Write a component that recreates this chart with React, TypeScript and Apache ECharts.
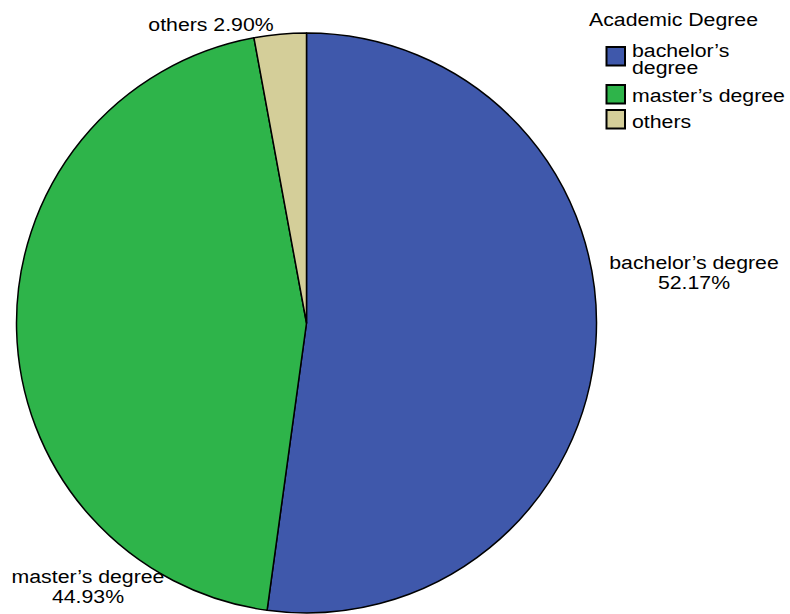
import React, { useEffect, useRef } from "react";
import * as echarts from "echarts";

// Academic degree distribution (percent of respondents)
const categories = ["bachelor’s degree", "master’s degree", "others"];
const percents = [52.17, 44.93, 2.9];
const colors = ["#3F58AB", "#2EB44A", "#D4CE99"];
const legendTitle = "Academic Degree";
const legendLabels = ["bachelor’s\ndegree", "master’s degree", "others"];

const FONT = "'Liberation Sans', Arial, Helvetica, sans-serif";
const FONT_SIZE = 19;
const STRETCH = 1.12;

// Where each slice label sits and how it is laid out
const labelSpots = [
  { x: 694, y: 272.5, lines: 2 },
  { x: 88, y: 586.5, lines: 2 },
  { x: 211, y: 24.5, lines: 1 },
];
// Legend geometry: swatch tops and text centres
const legendSwatchTops = [47, 85, 110];
const legendTextCentres = [59, 95, 121.5];

export default function App() {
  const ref = useRef<HTMLDivElement>(null);

  useEffect(() => {
    if (!ref.current) return;
    const chart = echarts.init(ref.current, null, { renderer: "svg" });

    const labelText = (i: number) => {
      const pct = percents[i].toFixed(2) + "%";
      return labelSpots[i].lines === 2
        ? `${categories[i]}\n${pct}`
        : `${categories[i]} ${pct}`;
    };

    const sliceLabels = categories.map((_, i) => ({
      type: "text",
      x: labelSpots[i].x,
      y: labelSpots[i].y,
      scaleX: STRETCH,
      z: 100,
      style: {
        text: labelText(i),
        font: `${FONT_SIZE}px ${FONT}`,
        fill: "#000",
        align: "center",
        verticalAlign: "middle",
        lineHeight: 20,
      },
    }));

    const legendItems: any[] = [];
    legendItems.push({
      type: "text",
      x: 589,
      y: 19,
      scaleX: STRETCH,
      z: 100,
      style: {
        text: legendTitle,
        font: `${FONT_SIZE}px ${FONT}`,
        fill: "#000",
        align: "left",
        verticalAlign: "middle",
      },
    });
    categories.forEach((_, i) => {
      legendItems.push({
        type: "rect",
        z: 100,
        shape: { x: 606.5, y: legendSwatchTops[i], width: 18.5, height: 18.5 },
        style: { fill: colors[i], stroke: "#000", lineWidth: 2 },
      });
      legendItems.push({
        type: "text",
        x: 632,
        y: legendTextCentres[i],
        scaleX: STRETCH,
        z: 100,
        style: {
          text: legendLabels[i],
          font: `${FONT_SIZE}px ${FONT}`,
          fill: "#000",
          align: "left",
          verticalAlign: "middle",
          lineHeight: 17.5,
        },
      });
    });

    chart.setOption({
      animation: false,
      backgroundColor: "#fff",
      series: [
        {
          type: "pie",
          center: [306.5, 323],
          radius: 290,
          startAngle: 90,
          clockwise: true,
          label: { show: false },
          labelLine: { show: false },
          emphasis: { disabled: true },
          itemStyle: { borderColor: "#000", borderWidth: 1.5 },
          data: categories.map((name, i) => ({
            name,
            value: percents[i],
            itemStyle: { color: colors[i] },
          })),
        },
      ],
      graphic: { elements: [...sliceLabels, ...legendItems] },
    });

    return () => chart.dispose();
  }, []);

  return (
    <div
      ref={ref}
      style={{ position: "absolute", left: 0, top: 0, width: 790, height: 614 }}
    />
  );
}
